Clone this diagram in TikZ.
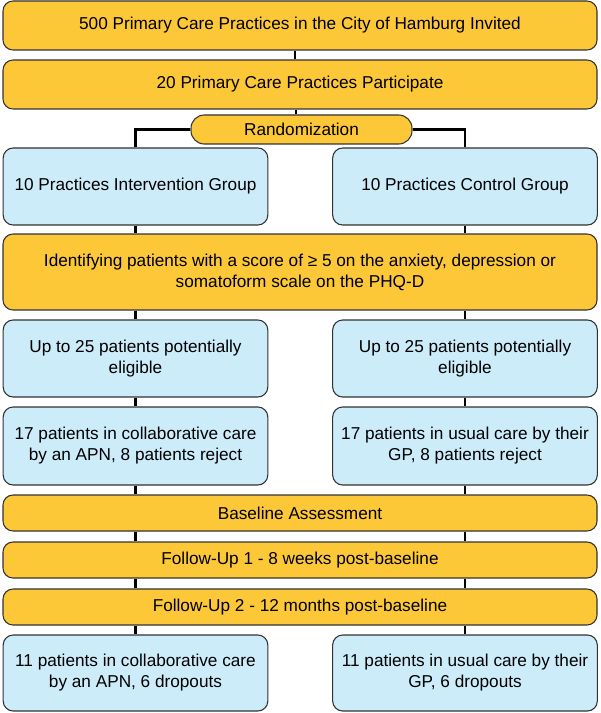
\documentclass[tikz,border=0pt]{standalone}
\usepackage{fontspec}
\setmainfont{Liberation Sans}
\definecolor{orangebox}{RGB}{252,200,56}
\definecolor{bluebox}{RGB}{204,236,250}
\definecolor{edgegray}{RGB}{50,50,50}
\tikzset{
  basebox/.style={draw=edgegray, line width=0.8pt, rounded corners=7.5pt, align=center, inner sep=0pt,
    font=\fontsize{12.9}{15.75}\selectfont},
  obox/.style={basebox, fill=orangebox},
  bbox/.style={basebox, fill=bluebox},
  full/.style={minimum width=445.5pt},
  half/.style={minimum width=198.5pt},
  conn/.style={draw=black, line width=1.6pt}
}
\begin{document}
\begin{tikzpicture}[x=0.75pt,y=-0.75pt]
\useasboundingbox (0,0) rectangle (600,713);
\node[obox, full, minimum height=36.75pt] (b1) at (300,25.5) {500 Primary Care Practices in the City of Hamburg Invited};
\node[obox, full, minimum height=36.75pt] (b2) at (300,84.5) {20 Primary Care Practices Participate};
\node[obox, minimum width=165.75pt, minimum height=21.75pt, rounded corners=10pt] (rand) at (301.5,129.5) {Randomization};
\node[bbox, half, minimum height=57.75pt] (i1) at (135.5,186.5) {10 Practices Intervention Group};
\node[bbox, half, minimum height=57.75pt] (c1) at (465,186.5) {10 Practices Control Group};
\node[obox, full, minimum height=57pt] (id) at (300,272) {Identifying patients with a score of ≥ 5 on the anxiety, depression or\\somatoform scale on the PHQ-D};
\node[bbox, half, minimum height=57.75pt] (u1) at (135.5,358.5) {Up to 25 patients potentially\\eligible};
\node[bbox, half, minimum height=57.75pt] (u2) at (465,358.5) {Up to 25 patients potentially\\eligible};
\node[bbox, half, minimum height=58.5pt] (p1) at (135.5,446) {17 patients in collaborative care\\by an APN, 8 patients reject};
\node[bbox, half, minimum height=58.5pt] (p2) at (465,446) {17 patients in usual care by their\\GP, 8 patients reject};
\node[obox, full, minimum height=27pt] (base) at (300,513) {Baseline Assessment};
\node[obox, full, minimum height=27pt] (f1) at (300,560) {Follow-Up 1 - 8 weeks post-baseline};
\node[obox, full, minimum height=27pt] (f2) at (300,607) {Follow-Up 2 - 12 months post-baseline};
\node[bbox, half, minimum height=57pt] (d1) at (135.5,673) {11 patients in collaborative care\\by an APN, 6 dropouts};
\node[bbox, half, minimum height=57pt] (d2) at (465,673) {11 patients in usual care by their\\GP, 6 dropouts};
% connectors
\draw[conn] ([xshift=-3.75pt]b1.south) -- ([xshift=-3.75pt]b2.north);
\draw[conn] ([xshift=-3pt]b2.south) -- ([xshift=-3pt]b2.south |- rand.north);
\draw[conn] (rand.west) -| (i1.north);
\draw[conn] (rand.east) -| (c1.north);
\foreach \a/\b in {i1/id, c1/id} {\draw[conn] (\a.south) -- (\a.south |- \b.north);}
\foreach \a/\b in {u1/id, u2/id} {\draw[conn] (\b.south -| \a.north) -- (\a.north);}
\draw[conn] (u1.south) -- (p1.north);
\draw[conn] (u2.south) -- (p2.north);
\foreach \a in {p1,p2} {
  \draw[conn] (\a.south) -- (\a.south |- base.north);
  \draw[conn] (base.south -| \a.south) -- (f1.north -| \a.south);
  \draw[conn] (f1.south -| \a.south) -- (f2.north -| \a.south);
}
\draw[conn] (f2.south -| d1.north) -- (d1.north);
\draw[conn] (f2.south -| d2.north) -- (d2.north);
\end{tikzpicture}
\end{document}
